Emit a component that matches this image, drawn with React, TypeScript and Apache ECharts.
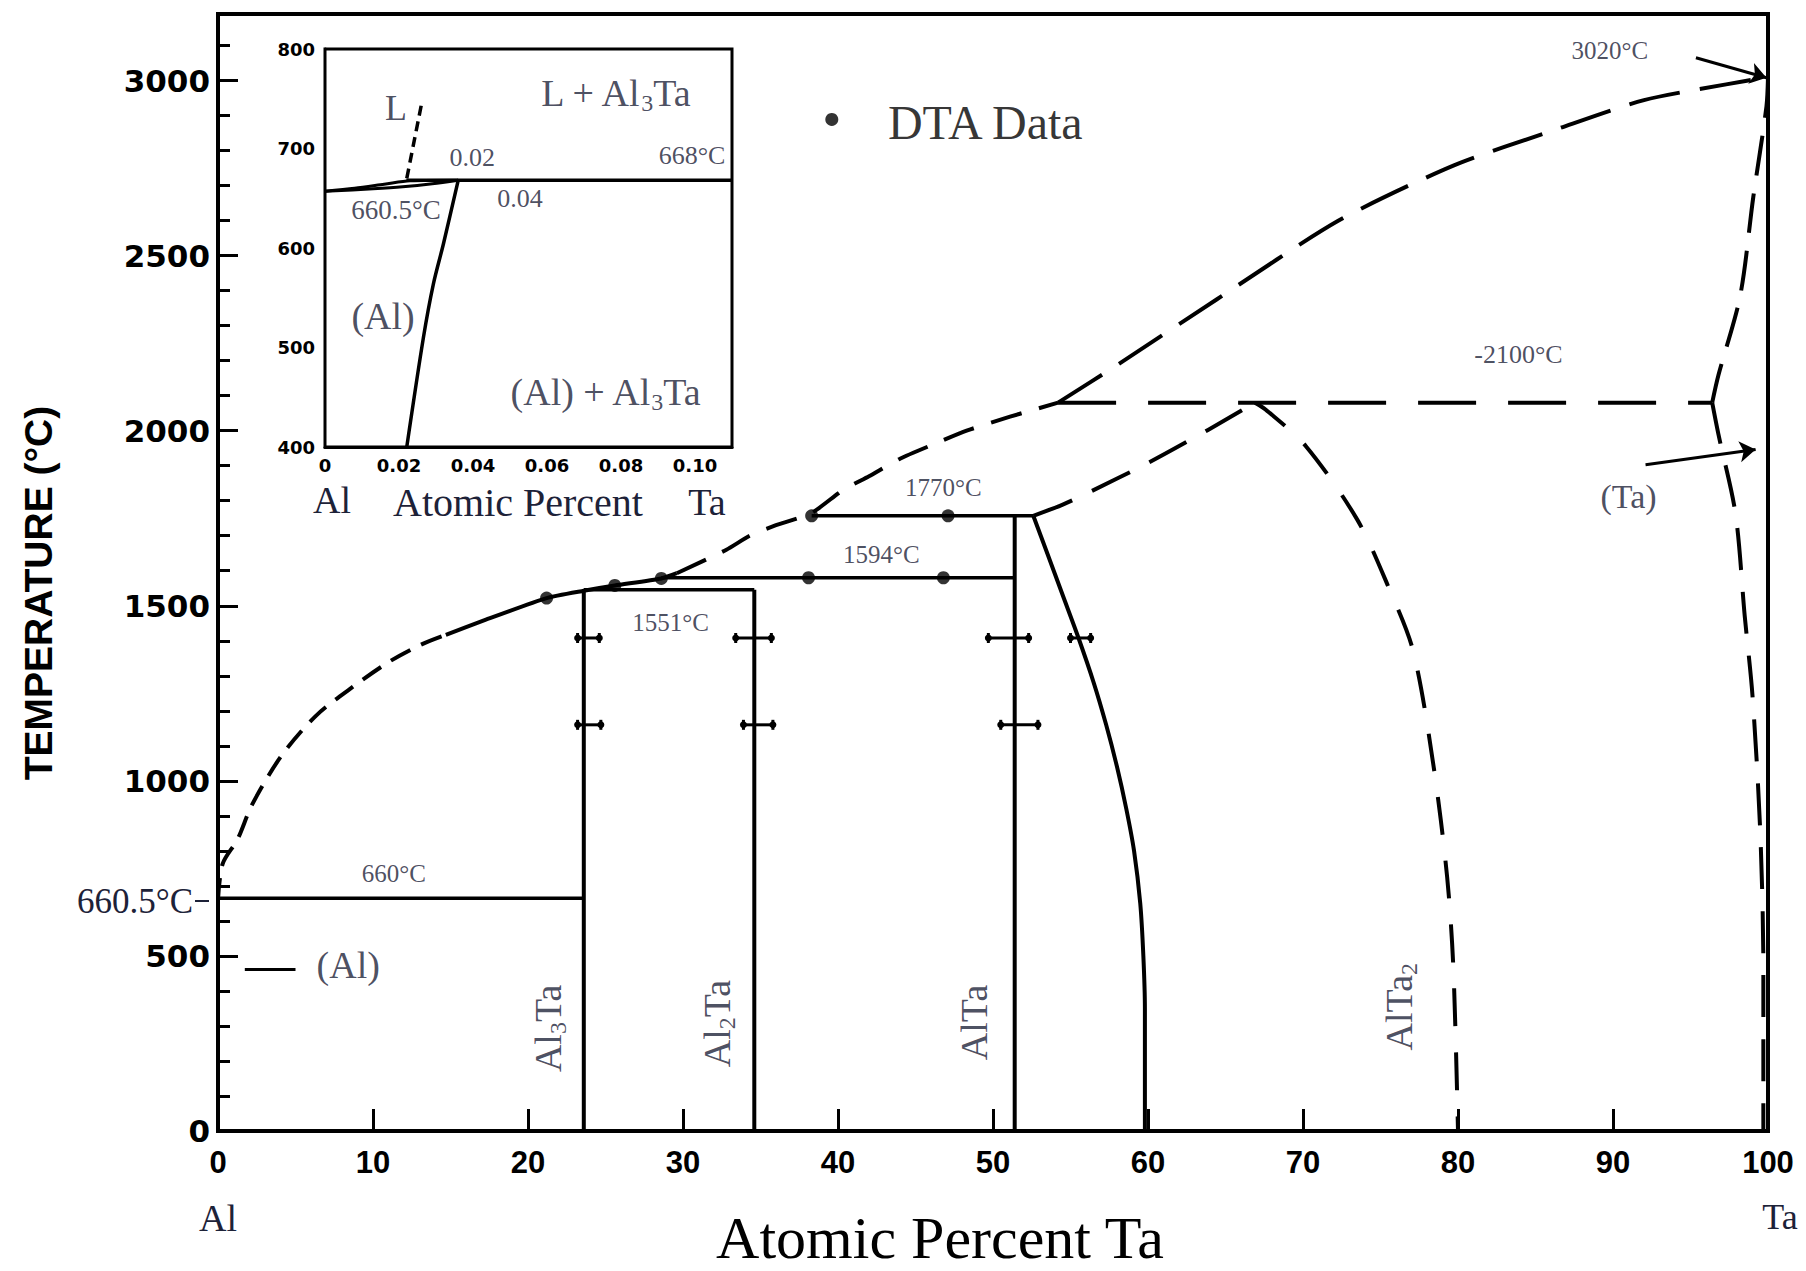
import React, { useEffect, useRef } from 'react';
import * as echarts from 'echarts';

// ---------- data (atomic % Ta, temperature °C) ----------
const xTickValues = [0, 10, 20, 30, 40, 50, 60, 70, 80, 90, 100];
const yTickLabels = [0, 500, 1000, 1500, 2000, 2500, 3000];

const liquidusLow = [[0, 660], [0.3, 763], [1.26, 833], [2.2, 932], [4.1, 1072], [6.3, 1185], [8.5, 1262], [11, 1339], [13.1, 1389], [14.7, 1417]];
const liquidusMid = [[14.7, 1417], [17.2, 1459], [21.2, 1522], [23.6, 1543], [25.6, 1558], [28.6, 1578], [29.6, 1593]];
const liquidusHighA = [[29.6, 1593], [32.8, 1660], [34.3, 1700], [36, 1730], [38.3, 1765], [40.3, 1830], [42, 1870], [44, 1920], [46.1, 1960], [48.3, 2000], [51.1, 2040], [54.2, 2080]];
const liquidusHighB = [[54.2, 2080], [58.2, 2193], [64.4, 2374], [72.3, 2600], [79.7, 2757], [86.3, 2860], [92, 2944], [97.3, 2989], [100, 3010]];
const taLiquidus = [[96.4, 2080], [96.8, 2158], [98.2, 2384], [99.05, 2667], [99.9, 2926], [100, 3010]];
const taSolvus = [[96.4, 2080], [96.8, 1990], [97.9, 1764], [98.5, 1470], [99.0, 1243], [99.5, 854], [99.7, 466], [99.7, 0]];
const altaBoundary = [[52.6, 1757], [53.5, 1650], [54.5, 1530], [55.5, 1410], [56.5, 1280], [57.3, 1160], [58.0, 1040], [58.6, 920], [59.1, 800], [59.5, 650], [59.7, 500], [59.8, 350], [59.8, 0]];
const altaToPeak = [[52.6, 1757], [54.5, 1789], [56.2, 1824], [60, 1908], [63.9, 2003], [66.9, 2080]];
const alta2Boundary = [[66.9, 2080], [67.6, 2060], [70.2, 1955], [73.5, 1746], [75.5, 1555], [77.1, 1372], [78.4, 1049], [79.3, 725], [79.7, 466], [80, 0]];

const line660 = [[0, 665], [23.6, 665]];
const line1551 = [[23.6, 1546], [34.6, 1546]];
const line1594 = [[28.6, 1580], [51.4, 1580]];
const line1770 = [[38.3, 1757], [52.6, 1757]];
const line2100 = [[54.2, 2080], [96.4, 2080]];
const al3TaLine = [[23.6, 0], [23.6, 1546]];
const al2TaLine = [[34.6, 0], [34.6, 1546]];
const alTaLine = [[51.4, 0], [51.4, 1757]];

const dtaPoints = [[21.2, 1522], [25.6, 1558], [28.6, 1578], [38.1, 1580], [46.8, 1580], [38.3, 1757], [47.1, 1757]];
const legendDot = [[39.6, 2889]];
// [temperature, x from, x to]
const errorBars = [[1408, 23.2, 24.6], [1160, 23.2, 24.7], [1408, 33.4, 35.7], [1160, 33.9, 35.8], [1408, 49.7, 52.3], [1160, 50.5, 52.9], [1408, 55.0, 56.3]];

const arrow3020 = [[95.35, 3065], [99.9, 3008]];
const arrowTa = [[92.1, 1903], [99.2, 1946]];
const alDash = [[1.73, 461], [5.0, 461]];

// annotations: [text, x, T]
const mainNotes = [
  ['DTA Data', 49.5, 2880],
  ['3020°C', 89.8, 3086],
  ['-2100°C', 83.9, 2217],
  ['(Ta)', 91, 1811],
  ['1770°C', 46.8, 1837],
  ['1594°C', 42.8, 1646],
  ['1551°C', 29.2, 1451],
  ['660°C', 11.35, 734],
  ['(Al)', 8.4, 474],
];
const mainNoteSizes = [48, 25, 26, 34, 25, 25, 25, 25, 38];
// phase names [base, sub, tail, x, T]
const phaseNames = [
  ['Al', '3', 'Ta', 21.3, 293],
  ['Al', '2', 'Ta', 32.2, 307],
  ['AlTa', '', '', 48.8, 310],
  ['AlTa', '2', '', 76.2, 355],
];

// ---------- inset (atomic % Ta 0–0.11, 400–800 °C) ----------
const insetLiquidus = [[0, 657], [0.008, 660], [0.016, 664], [0.023, 667.5], [0.036, 668]];
const insetSolidus = [[0, 657], [0.013, 659.5], [0.021, 661.5], [0.029, 664.5], [0.036, 668]];
const inset668 = [[0.022, 668], [0.11, 668]];
const insetSolvus = [[0.036, 668], [0.032, 604], [0.0293, 564], [0.0266, 510], [0.0221, 400]];
const insetL = [[0.0221, 670], [0.0261, 745]];
const insetNotes = [
  ['L', 0.0192, 741],
  ['0.02', 0.0398, 691],
  ['668°C', 0.0992, 693],
  ['660.5°C', 0.0192, 638],
  ['0.04', 0.0527, 650],
  ['(Al)', 0.0157, 532],
];
const insetNoteSizes = [36, 26, 26, 27, 26, 38];
const insetRichNotes = [
  ['L + Al', '3', 'Ta', 0.0784, 756],
  ['(Al) + Al', '3', 'Ta', 0.0757, 455],
];

// ---------- styles ----------
const SERIF = '"Liberation Serif", "Times New Roman", serif';
const SANS = '"Liberation Sans", Arial, sans-serif';
const DEJAVU = '"DejaVu Sans", sans-serif';
const INK = '#1d2238';

const rich = {
  n: { fontFamily: SERIF, fontSize: 38, lineHeight: 46, color: INK },
  sb: { fontFamily: SERIF, fontSize: 24, lineHeight: 46, padding: [20, 0, 0, 0], color: INK },
};

function richText(base: string, sub: string, tail: string) {
  let s = `{n|${base}}`;
  if (sub) s += `{sb|${sub}}`;
  if (tail) s += `{n|${tail}}`;
  return s;
}

function lineSeries(
  data: number[][],
  opts: { dash?: number[]; width?: number; smooth?: number; inset?: boolean } = {}
) {
  return {
    type: 'line',
    data,
    xAxisIndex: opts.inset ? 1 : 0,
    yAxisIndex: opts.inset ? 2 : 0,
    symbol: 'none',
    smooth: opts.smooth ?? false,
    silent: true,
    z: 3,
    lineStyle: { color: '#000', width: opts.width ?? 4, type: opts.dash ?? 'solid', cap: 'butt', join: 'round' },
  };
}

export default function App() {
  const ref = useRef<HTMLDivElement>(null);

  useEffect(() => {
    if (!ref.current) return;
    const chart = echarts.init(ref.current, undefined, { renderer: 'svg' });

    const series: any[] = [
      lineSeries(liquidusLow, { dash: [22, 12], smooth: 0.3 }),
      lineSeries(liquidusMid, { smooth: 0.2 }),
      lineSeries(liquidusHighA, { dash: [32, 18], smooth: 0.2 }),
      lineSeries(liquidusHighB, { dash: [52, 20], smooth: 0.25 }),
      lineSeries(taLiquidus, { dash: [40, 18], smooth: 0.3 }),
      lineSeries(taSolvus, { dash: [42, 22], smooth: 0.3 }),
      lineSeries(altaBoundary, { smooth: 0.3 }),
      lineSeries(altaToPeak, { dash: [42, 22], smooth: 0.3 }),
      lineSeries(alta2Boundary, { dash: [38, 26], smooth: 0.3 }),
      lineSeries(line660, { width: 3.5 }),
      lineSeries(line1551, { width: 3.5 }),
      lineSeries(line1594, { width: 3.5 }),
      lineSeries(line1770, { width: 3.5 }),
      lineSeries(line2100, { dash: [58, 32] }),
      lineSeries(al3TaLine, { width: 4 }),
      lineSeries(al2TaLine, { width: 4 }),
      lineSeries(alTaLine, { width: 4 }),
      lineSeries(alDash, { width: 3 }),
      {
        type: 'scatter',
        data: dtaPoints.concat(legendDot),
        xAxisIndex: 0,
        yAxisIndex: 0,
        symbol: 'circle',
        symbolSize: 13,
        itemStyle: { color: '#000' },
        silent: true,
        z: 6,
      },
      {
        type: 'custom',
        xAxisIndex: 0,
        yAxisIndex: 0,
        data: errorBars,
        encode: { x: [1, 2], y: 0 },
        silent: true,
        z: 5,
        renderItem: (params: any, api: any) => {
          const t = api.value(0);
          const p1 = api.coord([api.value(1), t]);
          const p2 = api.coord([api.value(2), t]);
          const st = { stroke: '#000', lineWidth: 3 };
          return {
            type: 'group',
            children: [
              { type: 'line', shape: { x1: p1[0], y1: p1[1], x2: p2[0], y2: p2[1] }, style: st },
              { type: 'line', shape: { x1: p1[0], y1: p1[1] - 5, x2: p1[0], y2: p1[1] + 5 }, style: st },
              { type: 'line', shape: { x1: p2[0], y1: p2[1] - 5, x2: p2[0], y2: p2[1] + 5 }, style: st },
              { type: 'circle', shape: { cx: p1[0], cy: p1[1], r: 3.5 }, style: { fill: '#000' } },
              { type: 'circle', shape: { cx: p2[0], cy: p2[1], r: 3.5 }, style: { fill: '#000' } },
            ],
          };
        },
      },
      {
        type: 'lines',
        coordinateSystem: 'cartesian2d',
        xAxisIndex: 0,
        yAxisIndex: 0,
        symbol: ['none', 'arrow'],
        symbolSize: [0, 16],
        silent: true,
        z: 5,
        lineStyle: { color: '#000', width: 3, opacity: 1, curveness: 0 },
        data: [{ coords: arrow3020 }, { coords: arrowTa }],
      },
      {
        type: 'scatter',
        xAxisIndex: 0,
        yAxisIndex: 0,
        symbolSize: 0,
        silent: true,
        z: 7,
        label: { show: true, position: 'inside', color: INK, fontFamily: SERIF, fontSize: 26, rich },
        data: mainNotes
          .map((n, i) => ({
            value: [n[1], n[2]],
            label: { formatter: n[0] as string, fontSize: mainNoteSizes[i], color: i === 0 ? '#000' : INK },
          }))
          .concat(
            phaseNames.map((p) => ({
              value: [p[3], p[4]],
              label: { formatter: richText(p[0] as string, p[1] as string, p[2] as string), rotate: 90 } as any,
            })) as any
          ),
      },
      // inset
      lineSeries(insetLiquidus, { inset: true, width: 3, smooth: 0.3 }),
      lineSeries(insetSolidus, { inset: true, width: 3, smooth: 0.3 }),
      lineSeries(inset668, { inset: true, width: 3.5 }),
      lineSeries(insetSolvus, { inset: true, width: 3.5, smooth: 0.3 }),
      lineSeries(insetL, { inset: true, width: 3.5, dash: [10, 6] }),
      {
        type: 'scatter',
        xAxisIndex: 1,
        yAxisIndex: 2,
        symbolSize: 0,
        silent: true,
        z: 7,
        label: { show: true, position: 'inside', color: INK, fontFamily: SERIF, fontSize: 26, rich },
        data: insetNotes
          .map((n, i) => ({
            value: [n[1], n[2]],
            label: { formatter: n[0] as string, fontSize: insetNoteSizes[i] },
          }))
          .concat(
            insetRichNotes.map((p) => ({
              value: [p[3], p[4]],
              label: { formatter: richText(p[0] as string, p[1] as string, p[2] as string) } as any,
            })) as any
          ),
      },
    ];

    const textStyle = (text: string, font: string, fill: string, align = 'center') => ({
      text,
      fill,
      font,
      align,
      verticalAlign: 'middle',
      textAlign: align,
      textVerticalAlign: 'middle',
    });

    const option: any = {
      animation: false,
      backgroundColor: '#fff',
      grid: [
        { left: 218, top: 14, width: 1550, height: 1117, show: true, borderColor: '#000', borderWidth: 4, z: 1 },
        { left: 325, top: 49, width: 407, height: 398, show: true, borderColor: '#000', borderWidth: 3, backgroundColor: '#fff', z: 1 },
      ],
      xAxis: [
        {
          type: 'value',
          gridIndex: 0,
          min: 0,
          max: 100,
          interval: 10,
          axisLine: { show: true, onZero: false, lineStyle: { color: '#000', width: 4 } },
          axisTick: { show: true, inside: true, length: 22, lineStyle: { color: '#000', width: 3 } },
          axisLabel: {
            margin: 16,
            color: '#000',
            fontFamily: SANS,
            fontWeight: 'bold',
            fontSize: 31,
            formatter: (v: number) => (xTickValues.indexOf(v) >= 0 ? String(v) : ''),
          },
          splitLine: { show: false },
        },
        {
          type: 'value',
          gridIndex: 1,
          min: 0,
          max: 0.11,
          interval: 0.02,
          axisLine: { show: true, onZero: false, lineStyle: { color: '#000', width: 3 } },
          axisTick: { show: true, inside: true, length: 10, lineStyle: { color: '#000', width: 2.5 } },
          axisLabel: {
            margin: 9,
            color: '#000',
            fontFamily: DEJAVU,
            fontWeight: 'bold',
            fontSize: 18,
            showMaxLabel: false,
            formatter: (v: number) => {
              const k = Math.round(v * 50);
              if (Math.abs(v * 50 - k) > 1e-6) return '';
              return k === 0 ? '0' : (k / 50).toFixed(2);
            },
          },
          splitLine: { show: false },
        },
      ],
      yAxis: [
        {
          type: 'value',
          gridIndex: 0,
          min: 0,
          max: 3190,
          interval: 500,
          axisLine: { show: true, onZero: false, lineStyle: { color: '#000', width: 4 } },
          axisTick: { show: true, inside: true, length: 20, lineStyle: { color: '#000', width: 3 } },
          axisLabel: {
            margin: 8,
            color: '#000',
            fontFamily: DEJAVU,
            fontWeight: 'bold',
            fontSize: 31,
            formatter: (v: number) => (yTickLabels.indexOf(v) >= 0 ? String(v) : ''),
          },
          splitLine: { show: false },
        },
        {
          type: 'value',
          gridIndex: 0,
          position: 'left',
          min: 0,
          max: 3190,
          interval: 100,
          axisLine: { show: false },
          axisTick: { show: true, inside: true, length: 12, lineStyle: { color: '#000', width: 3 } },
          axisLabel: { show: false },
          splitLine: { show: false },
        },
        {
          type: 'value',
          gridIndex: 1,
          min: 400,
          max: 800,
          interval: 100,
          axisLine: { show: true, onZero: false, lineStyle: { color: '#000', width: 3 } },
          axisTick: { show: true, inside: true, length: 16, lineStyle: { color: '#000', width: 2.5 } },
          axisLabel: { margin: 10, color: '#000', fontFamily: DEJAVU, fontWeight: 'bold', fontSize: 18 },
          splitLine: { show: false },
        },
      ],
      graphic: [
        { type: 'text', x: 38, y: 593, rotation: Math.PI / 2, style: textStyle('TEMPERATURE (°C)', `bold 39px ${SANS}`, '#000') },
        { type: 'text', x: 940, y: 1238, style: textStyle('Atomic Percent Ta', `60px ${SERIF}`, '#000') },
        { type: 'text', x: 218, y: 1218, style: textStyle('Al', `38px ${SERIF}`, INK) },
        { type: 'text', x: 1780, y: 1217, style: textStyle('Ta', `36px ${SERIF}`, INK) },
        { type: 'text', x: 332, y: 500, style: textStyle('Al', `38px ${SERIF}`, INK) },
        { type: 'text', x: 518, y: 502, style: textStyle('Atomic Percent', `40px ${SERIF}`, INK) },
        { type: 'text', x: 707, y: 502, style: textStyle('Ta', `38px ${SERIF}`, INK) },
        { type: 'text', x: 193, y: 901, style: textStyle('660.5°C', `35px ${SERIF}`, INK, 'right') },
        { type: 'line', shape: { x1: 195, y1: 901, x2: 209, y2: 901 }, style: { stroke: INK, lineWidth: 2 } },
      ],
      series,
    };

    chart.setOption(option);
    return () => chart.dispose();
  }, []);

  return (
    <div
      ref={ref}
      style={{ position: 'fixed', left: 0, top: 0, width: 1806, height: 1271, background: '#fff' }}
    />
  );
}
